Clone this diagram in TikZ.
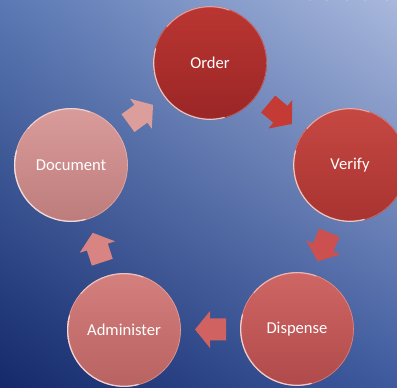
\documentclass[tikz,border=0pt]{standalone}
\usepackage{fontspec}
\setmainfont{Carlito}
\usetikzlibrary{calc,shadings}
\definecolor{bgUL}{HTML}{5A78B4}
\definecolor{bgUR}{HTML}{A9B8DC}
\definecolor{bgLL}{HTML}{14296A}
\definecolor{bgLR}{HTML}{3D5A9E}
\definecolor{oT}{HTML}{BA3632}\definecolor{oB}{HTML}{9A2626}
\definecolor{vT}{HTML}{C64843}\definecolor{vB}{HTML}{A83330}
\definecolor{dT}{HTML}{CE6664}\definecolor{dB}{HTML}{B04A4A}
\definecolor{aT}{HTML}{D4807E}\definecolor{aB}{HTML}{B86262}
\definecolor{mT}{HTML}{DA9C9A}\definecolor{mB}{HTML}{BC7C7C}
\definecolor{arA}{HTML}{C43A34}
\definecolor{arB}{HTML}{CC5050}
\definecolor{arC}{HTML}{D06262}
\definecolor{arD}{HTML}{D88482}
\definecolor{arE}{HTML}{DC9E9A}
\begin{document}
\begin{tikzpicture}[x=1pt,y=1pt,
  stage/.style={circle, minimum size=114pt, inner sep=0pt, text=white,
    font=\fontsize{16.6}{19}\selectfont},
  rim/.style={white, line width=1.3pt, opacity=0.65},
  thinrim/.style={white, line width=0.6pt, opacity=0.3},
  blockarrow/.pic={\fill[pic actions] (-15.5,-11) -- (0.5,-11) -- (0.5,-18.5)
     -- (15.5,0) -- (0.5,18.5) -- (0.5,11) -- (-15.5,11) -- cycle;}
]
\useasboundingbox (0,0) rectangle (397,388);
\clip (0,0) rectangle (397,388);
\shade[shading=bilinear interpolation, upper left=bgUL, upper right=bgUR,
  lower left=bgLL, lower right=bgLR]
  (0,0) rectangle (397,388);
% faint marks at top edge
\foreach \x in {310,327,347,365,387}
  \draw[white, opacity=0.5, line width=0.7pt] (\x,394) circle[radius=6pt];

\node[stage, top color=oT, bottom color=oB] (o) at (210,325) {Order};
\node[stage, top color=vT, bottom color=vB] (v) at (350,223) {Verify};
\node[stage, top color=dT, bottom color=dB] (d) at (297,59) {Dispense};
\node[stage, top color=aT, bottom color=aB] (a) at (124,58) {Administer};
\node[stage, top color=mT, bottom color=mB] (m) at (71,223) {Document};

\foreach \n in {o,v,d,a,m}{
  \draw[thinrim] (\n.center) circle[radius=56.5pt];
  \draw[rim] ($(\n.center)+(165:56.3pt)$) arc[start angle=165, end angle=285, radius=56.3pt];
  \draw[rim, opacity=0.4] ($(\n.center)+(70:56.3pt)$) arc[start angle=70, end angle=140, radius=56.3pt];
}

\pic[rotate=-40, fill=arA] at ($(o)!0.5!(v)$) {blockarrow};
\pic[rotate=-112, fill=arB] at ($(v)!0.5!(d)$) {blockarrow};
\pic[rotate=180, fill=arC] at ($(d)!0.5!(a)$) {blockarrow};
\pic[rotate=108, fill=arD] at ($(a)!0.5!(m)$) {blockarrow};
\pic[rotate=36, fill=arE] at ($(m)!0.5!(o)$) {blockarrow};
\end{tikzpicture}
\end{document}
